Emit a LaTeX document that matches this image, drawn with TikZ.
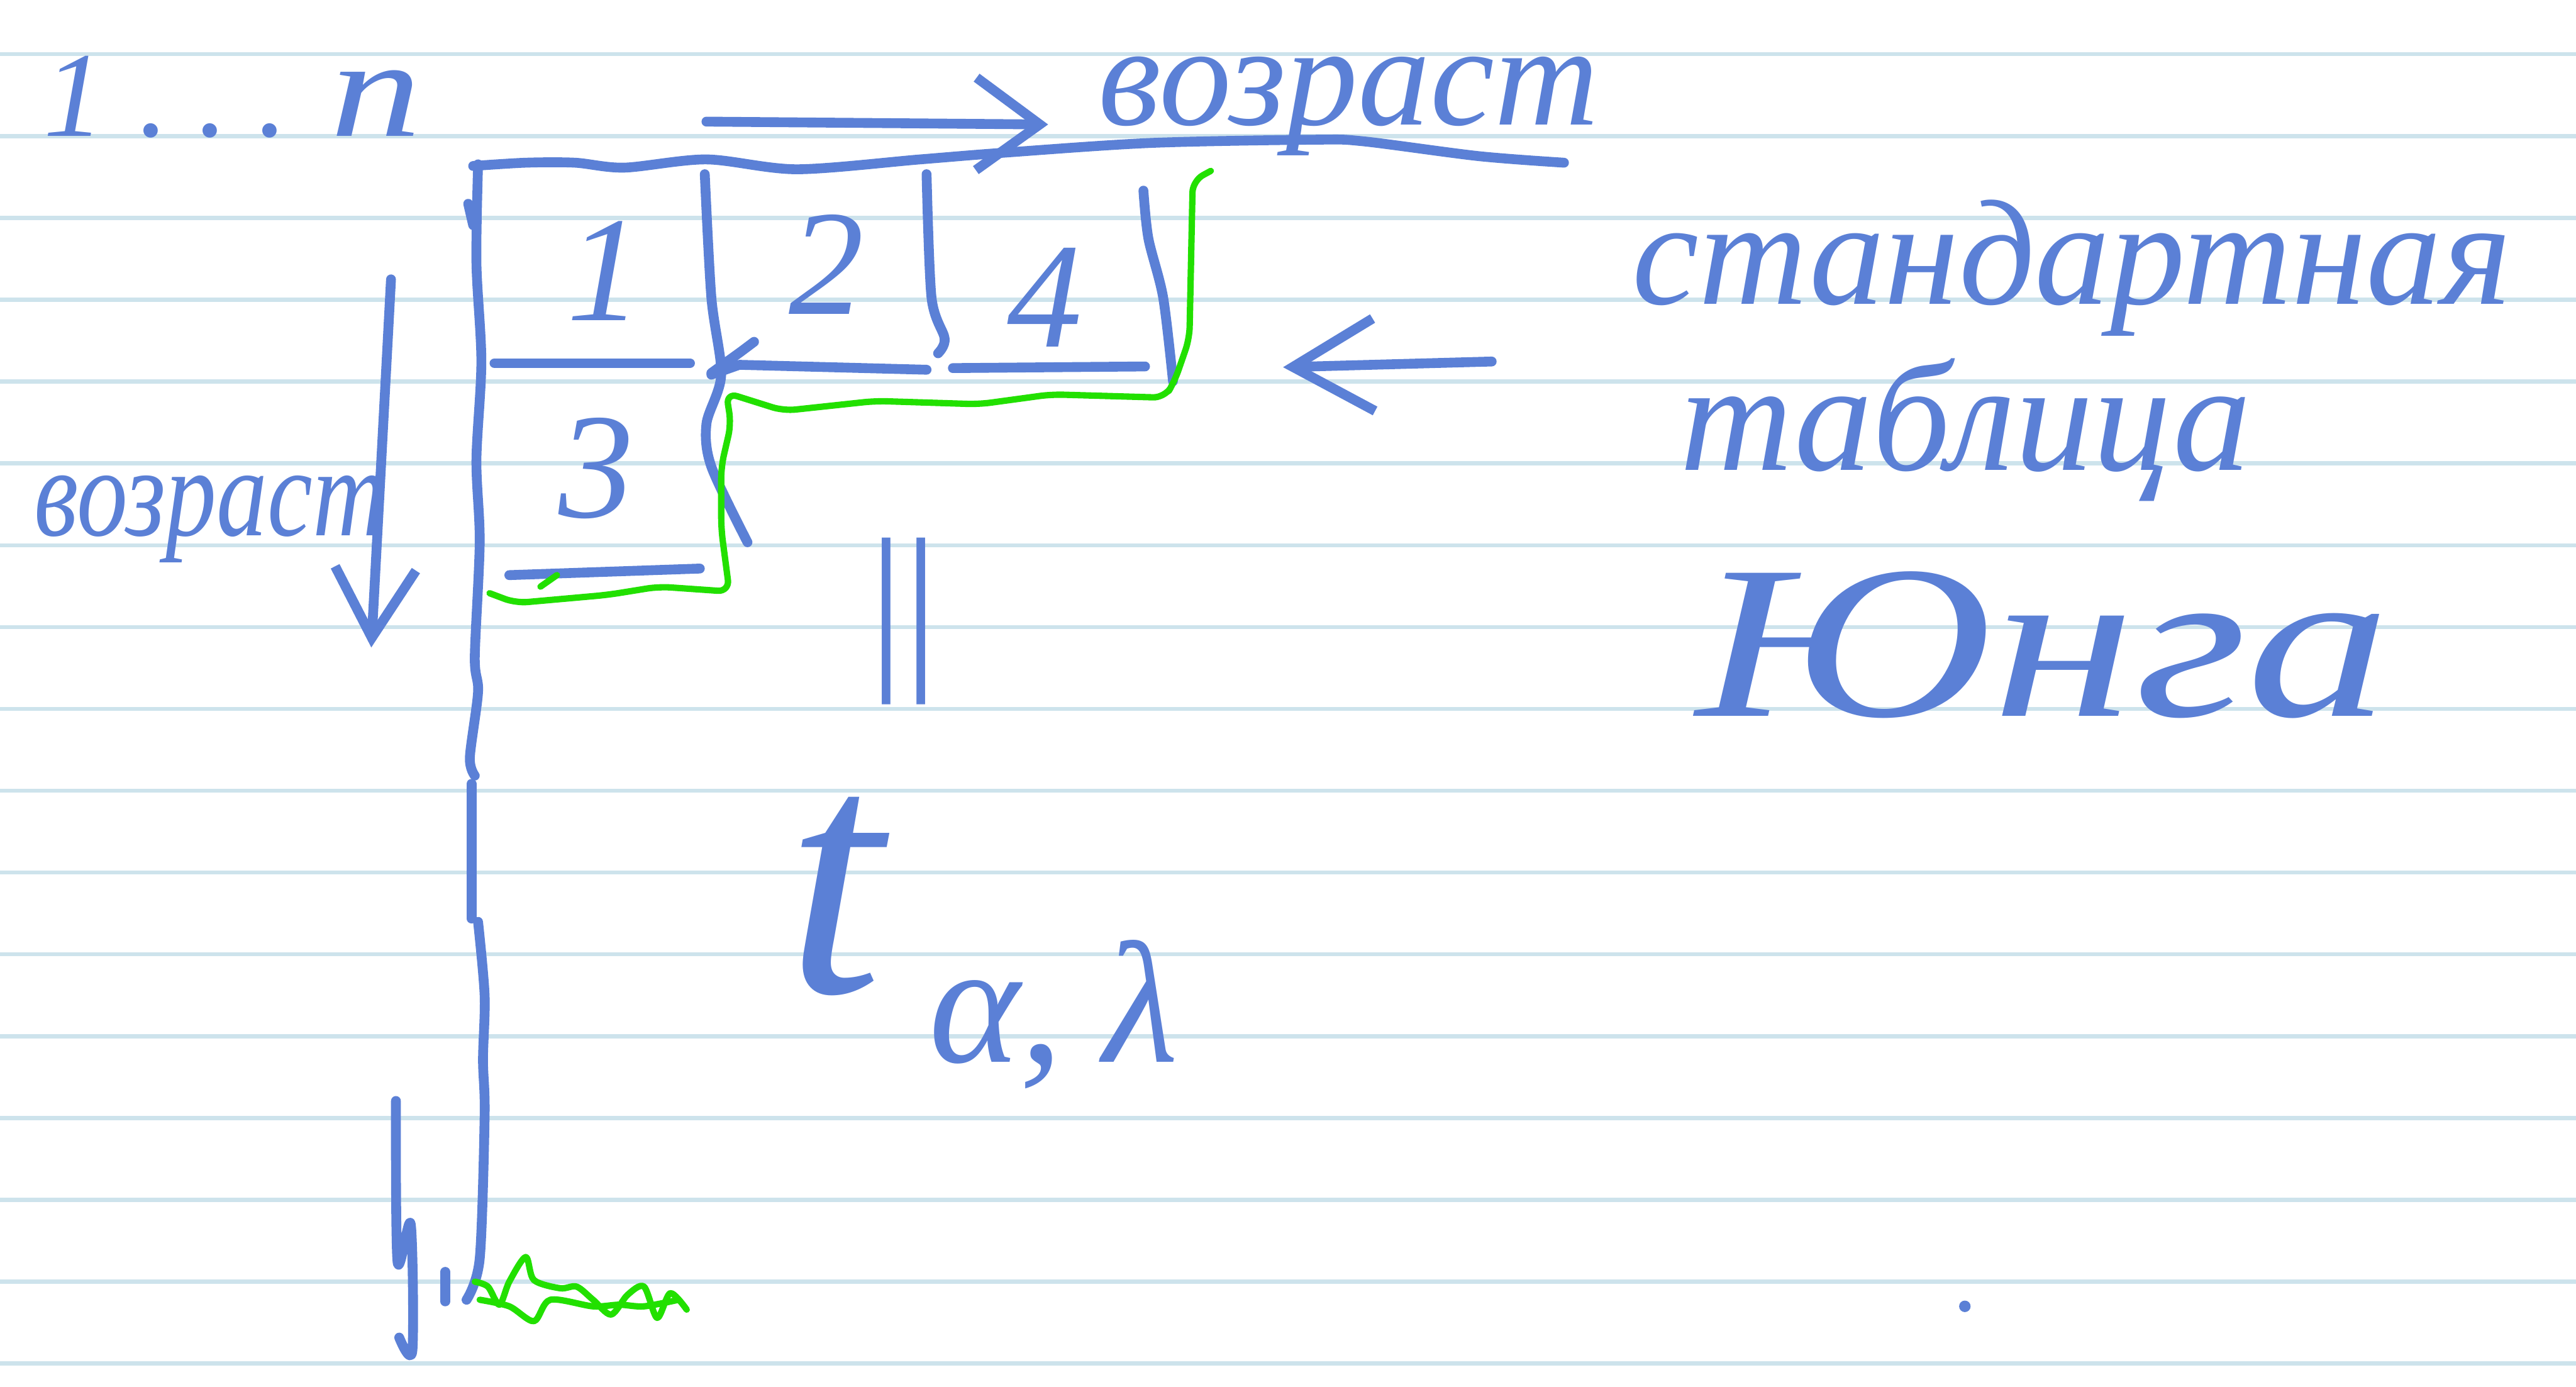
\documentclass[tikz,border=0pt]{standalone}
\usepackage{fontspec}
\setmainfont{Liberation Serif}
\usetikzlibrary{arrows.meta}
\definecolor{nbblue}{HTML}{5B80D6}
\definecolor{nbgreen}{HTML}{22E000}
\definecolor{nbrule}{HTML}{CDE3EC}

\begin{document}
\begin{tikzpicture}[x=0.01cm, y=-0.01cm,
    ink/.style={draw=nbblue, line width=1.7pt, line cap=round, line join=round},
    hl/.style={draw=nbgreen, line width=1.1pt, line cap=round, line join=round},
    ruled/.style={draw=nbrule, line width=0.7pt},
    hand/.style={text=nbblue, inner sep=0pt, anchor=base west},
    num/.style={text=nbblue, inner sep=0pt, font=\fontsize{26}{28}\selectfont\itshape}]
    \useasboundingbox (0,0) rectangle (1568,844);
    \fill[white] (0,0) rectangle (1568,844);
    \foreach \k in {0,...,16}
      \draw[ruled] (0,{33+49.8*\k}) -- (1568,{33+49.8*\k});

    \node[hand, font=\fontsize{21}{24}\selectfont\itshape] (range) at (26,83)
      {1\hspace{0.28em}.\hspace{0.24em}.\hspace{0.24em}.\hspace{0.35em}\scalebox{1.5}[1.15]{n}};
    \node[hand, font=\fontsize{25}{28}\selectfont\itshape] (agetop) at (668,76) {возраст};
    \node[hand, font=\fontsize{22}{24}\selectfont\itshape] (ageleft) at (20,326)
      {\scalebox{0.8}[1]{возраст}};
    \node[hand, font=\fontsize{26}{28}\selectfont\itshape] (std) at (993,185) {стандартная};
    \node[hand, font=\fontsize{27}{28}\selectfont\itshape] (tab) at (1022,286) {таблица};
    \node[hand, font=\fontsize{36}{40}\selectfont\itshape] (young) at (1032,436)
      {\scalebox{1.38}[1.05]{Юнга}};

    \coordinate (agestart) at (430,74);
    \draw[ink, -{Straight Barb[length=11pt, width=16pt]}, shorten >=0.3cm]
      (agestart) -- (agetop.base west);
    \coordinate (downstart) at (238,170);
    \coordinate (downend) at (226,394);
    \draw[ink, -{Straight Barb[length=12pt, width=14pt]}] (downstart) -- (downend);
    \coordinate (ptr) at (908,220);
    \coordinate (tabR) at (725,225);
    \draw[ink, -{Straight Barb[length=14pt, width=16pt]}, shorten >=0.56cm] (ptr) -- (tabR);

    \draw[ink] plot[smooth] coordinates {(288,101) (320,99) (350,99) (380,102) (430,97)
      (485,103) (560,97) (610,93) (700,87) (800,85) (830,86) (900,95) (952,99)};
    \draw[ink] plot[smooth] coordinates {(291,100) (290,160) (293,220) (290,280) (292,330)
      (289,400) (291,421) (286,461) (289,472)};
    \draw[ink] (285,124) -- (288,137);
    \draw[ink] (287,477) -- (287,559);
    \draw[ink] plot[smooth] coordinates {(291,561) (295,606) (294,645) (295,679) (292,766)
      (284,791)};
    \draw[ink] (271,774) -- (271,792);
    \draw[ink] plot[smooth] coordinates {(241,670) (242,768) (250,745) (251,822) (243,814)};
    \draw[ink] plot[smooth] coordinates {(429,106) (433,181) (439,228) (430,258) (433,284)
      (455,330)};
    \draw[ink] plot[smooth] coordinates {(564,106) (567,181) (575,206) (571,215)};
    \draw[ink] plot[smooth] coordinates {(696,116) (699,145) (708,181) (714,232)};
    \draw[ink] (301,221) -- (420,221);
    \draw[ink] (433,228) -- (450,222) -- (564,225);
    \draw[ink] (580,224) -- (697,223);
    \draw[ink] (459,208) -- (451,214) -- (433,227);
    \draw[ink] (310,350) -- (426,346);

    \node[num] (c1) at (368,165) {1};
    \node[num] (c2) at (503,161) {2};
    \node[num] (c4) at (636,181) {4};
    \node[num] (c3) at (363,285) {3};

    \draw[hl, rounded corners=2pt] (737,104) -- (726,110) -- (724,206) -- (715,232)
      -- (709,242) -- (640,240) -- (596,246) -- (533,244) -- (477,250) -- (442,239)
      -- (445,258) -- (439,284) -- (439,322) -- (444,360) -- (401,357) -- (370,362)
      -- (314,367) -- (298,361);
    \draw[hl] (339,350) -- (329,357);
    \draw[hl] plot[smooth] coordinates {(289,780) (297,783) (304,794) (310,780) (320,765)
      (325,779) (341,784) (351,783) (361,791) (372,800) (382,788) (392,783) (400,802)
      (408,787) (418,797)};
    \draw[hl] plot[smooth] coordinates {(292,791) (310,795) (325,804) (335,791) (361,795)
      (377,794) (392,795) (413,791)};

    \node[text=nbblue, inner sep=0pt, rotate=90, font=\fontsize{40}{42}\selectfont] (eq)
      at (561,378) {\scalebox{1.55}[0.75]{=}};
    \node[hand, font=\fontsize{60}{62}\selectfont\itshape] (tal) at (478,604)
      {t\hspace{8pt}\raisebox{-12pt}{\fontsize{30}{32}\selectfont α,\hspace{7pt}λ}};
    \fill[nbblue] (1196,795) circle (3.5);
  \end{tikzpicture}
\end{document}
